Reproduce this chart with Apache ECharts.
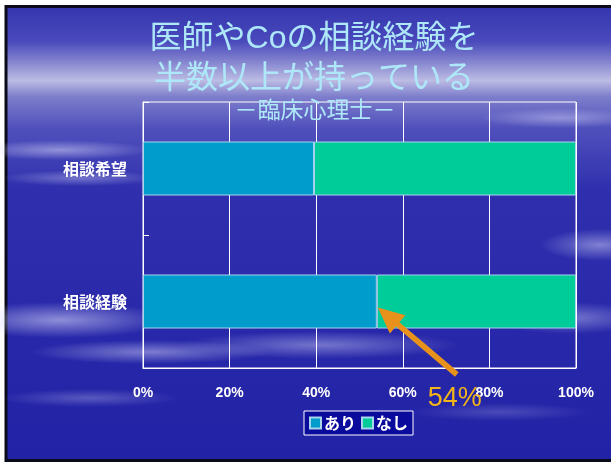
<!DOCTYPE html>
<html>
<head>
<meta charset="utf-8">
<script src="https://cdn.jsdelivr.net/npm/echarts@6/dist/echarts.min.js"></script>
<style>
  html, body { margin: 0; padding: 0; background: #fff; overflow: hidden; }
  #main { width: 611px; height: 463px; }
</style>
</head>
<body>
<div id="main"></div>
<script>
// データ
const categories = ['相談経験', '相談希望'];
const ariData = [54, 39.5];
const nashiData = [46, 60.5];
const xTicks = [0, 20, 40, 60, 80, 100];

const JP = "'Noto Sans CJK JP', sans-serif";
const LATIN = "'Liberation Sans', 'Noto Sans CJK JP', sans-serif";
const titleColor = '#aee8f8';

const chart = echarts.init(document.getElementById('main'));

// 背景の雲（ぼかした楕円）
function cloud(id, cx, cy, rx, ry, a) {
  return {
    id: id, type: 'circle', z: -9, silent: true,
    x: cx, y: cy, scaleY: ry / rx,
    shape: { cx: 0, cy: 0, r: rx },
    style: {
      fill: {
        type: 'radial', x: 0.5, y: 0.5, r: 0.5,
        colorStops: [
          { offset: 0, color: 'rgba(210,210,248,' + a + ')' },
          { offset: 0.5, color: 'rgba(210,210,248,' + (a * 0.5) + ')' },
          { offset: 1, color: 'rgba(210,210,248,0)' }
        ]
      }
    }
  };
}

const bgElements = [
  {
    id: 'bg', type: 'rect', z: -10, silent: true,
    shape: { x: 6, y: 6.5, width: 640, height: 454 },
    style: {
      fill: {
        type: 'linear', x: 0, y: 0, x2: 0, y2: 1,
        colorStops: [
          { offset: 0, color: '#3434ae' },
          { offset: 0.08, color: '#4a4abc' },
          { offset: 0.13, color: '#8c8cd2' },
          { offset: 0.165, color: '#bcbce4' },
          { offset: 0.2, color: '#7e7ecc' },
          { offset: 0.27, color: '#5050bc' },
          { offset: 0.4, color: '#3030ae' },
          { offset: 0.7, color: '#2828aa' },
          { offset: 1, color: '#2222a6' }
        ]
      },
      stroke: '#0a0a18', lineWidth: 3
    }
  },
  cloud('c1', 60, 150, 90, 10, 0.55),
  cloud('c2', 80, 178, 80, 8, 0.4),
  cloud('c3', 560, 118, 80, 10, 0.45),
  cloud('c4', 600, 245, 60, 16, 0.5),
  cloud('c5', 60, 320, 110, 18, 0.6),
  cloud('c6', 150, 352, 120, 12, 0.5),
  cloud('c7', 320, 345, 140, 14, 0.45),
  cloud('c8', 570, 318, 80, 16, 0.45),
  cloud('c9', 90, 398, 90, 9, 0.3),
  cloud('c10', 500, 412, 90, 9, 0.22)
];

const option = {
  backgroundColor: '#ffffff',
  animation: false,
  title: [
    {
      text: '医師やCoの相談経験を\n半数以上が持っている',
      left: 309, top: 14, textAlign: 'center',
      textStyle: {
        color: titleColor, fontSize: 32, fontWeight: 'normal',
        fontFamily: LATIN, lineHeight: 40
      }
    },
    {
      text: '－臨床心理士－',
      left: 310, top: 93, textAlign: 'center',
      textStyle: {
        color: titleColor, fontSize: 23, fontWeight: 'normal',
        fontFamily: JP
      }
    }
  ],
  grid: {
    left: 143, right: 35, top: 102, bottom: 95,
    show: true, borderColor: '#ffffff', borderWidth: 1,
    backgroundColor: 'transparent'
  },
  legend: {
    left: 304, top: 411,
    padding: [4, 5, 4, 5],
    backgroundColor: '#0a0a9c',
    borderColor: '#ffffff', borderWidth: 1,
    icon: 'rect', itemWidth: 11, itemHeight: 11, itemGap: 5,
    textStyle: { color: '#ffffff', fontSize: 16, fontWeight: 'bold', fontFamily: JP, padding: [0, 0, 0, -2] },
    data: ['あり', 'なし']
  },
  xAxis: {
    type: 'value', min: 0, max: 100, interval: 20,
    axisLine: { show: true, lineStyle: { color: '#ffffff', width: 1 } },
    axisTick: { show: false },
    splitLine: { show: true, lineStyle: { color: '#ffffff', width: 1 } },
    axisLabel: {
      color: '#ffffff', fontSize: 14, fontWeight: 'bold', fontFamily: LATIN,
      margin: 18,
      formatter: function (v) { return xTicks.indexOf(v) >= 0 ? v + '%' : ''; }
    }
  },
  yAxis: {
    type: 'category', data: categories,
    axisLine: { show: true, lineStyle: { color: '#ffffff', width: 1 } },
    axisTick: { show: true, inside: true, length: 6, lineStyle: { color: '#ffffff' } },
    splitLine: { show: false },
    axisLabel: {
      color: '#ffffff', fontSize: 16, fontWeight: 'bold', fontFamily: JP, margin: 16
    }
  },
  series: [
    {
      name: 'あり', type: 'bar', stack: 'total', barWidth: 54,
      itemStyle: { color: '#009ccc', borderColor: '#a8d4ec', borderWidth: 1 },
      data: ariData
    },
    {
      name: 'なし', type: 'bar', stack: 'total', barWidth: 54,
      itemStyle: { color: '#00cc99', borderColor: '#a8d4ec', borderWidth: 1 },
      data: nashiData
    }
  ],
  graphic: { elements: bgElements }
};

chart.setOption(option);

// 矢印と注記（相談経験のありの値の位置から）
const p = chart.convertToPixel({ gridIndex: 0 }, [ariData[0], 0]);
const tip = [p[0] + 1, p[1] + 6];
const tail = [tip[0] + 79, tip[1] + 67];
const dx = tip[0] - tail[0], dy = tip[1] - tail[1];
const len = Math.sqrt(dx * dx + dy * dy);
const ux = dx / len, uy = dy / len;
const nx = -uy, ny = ux;
const headLen = 26, headHalf = 12, shaftHalf = 2.8;
const bx = tip[0] - ux * headLen, by = tip[1] - uy * headLen;
const arrowPts = [
  [tail[0] + nx * shaftHalf, tail[1] + ny * shaftHalf],
  [bx + nx * shaftHalf, by + ny * shaftHalf],
  [bx + nx * headHalf, by + ny * headHalf],
  tip,
  [bx - nx * headHalf, by - ny * headHalf],
  [bx - nx * shaftHalf, by - ny * shaftHalf],
  [tail[0] - nx * shaftHalf, tail[1] - ny * shaftHalf]
];

chart.setOption({
  graphic: {
    elements: [
      {
        id: 'arrow', type: 'polygon', z: 20, silent: true,
        shape: { points: arrowPts },
        style: { fill: '#e8921c' }
      },
      {
        id: 'note', type: 'text', z: 21, silent: true,
        x: tail[0] - 29, y: tail[1] + 24,
        style: {
          text: ariData[0] + '%', fill: '#f2b418',
          font: 'normal 27px ' + LATIN,
          verticalAlign: 'middle', align: 'left'
        }
      }
    ]
  }
});
</script>
</body>
</html>
